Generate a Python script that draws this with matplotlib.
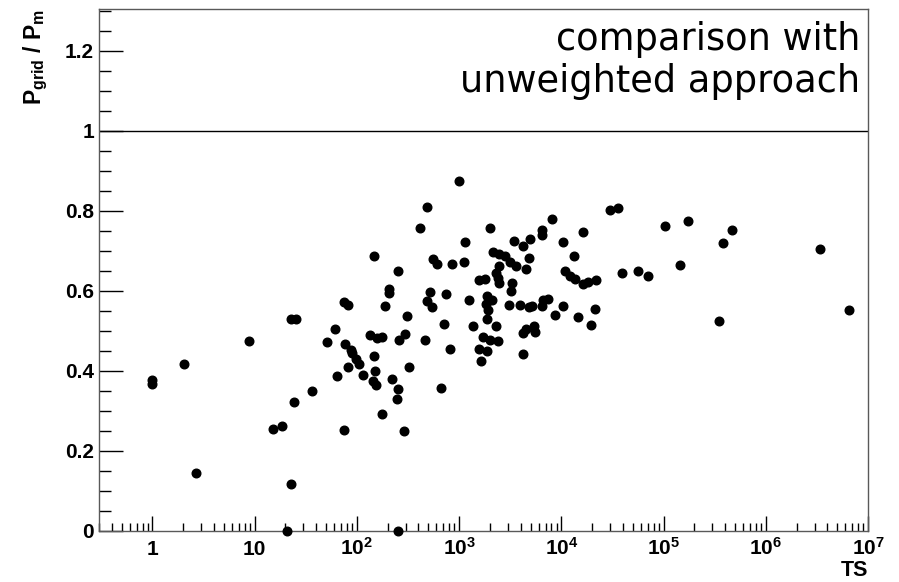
import matplotlib
matplotlib.use("Agg")
import matplotlib.pyplot as plt
from matplotlib.ticker import FixedLocator, LogLocator, NullFormatter, MultipleLocator

# ---- data ----
ts = [1.0, 1.0, 2.05, 2.67, 8.8, 15.1, 18.4, 20.5, 22.5, 22.5,
      25.3, 24.4, 36, 50.8, 60.8, 63.2, 74, 74.5, 82, 76.7,
      82, 86.6, 89.8, 97.5, 104, 116, 133, 147, 147, 151,
      144, 155, 156, 175, 175, 187, 208, 208, 222, 248,
      254, 255, 253, 258, 287, 294, 309, 321, 416, 463,
      485, 485, 519, 547, 553, 612, 670, 717, 750, 813,
      851, 989, 1107, 1132, 1258, 1376, 1550, 1786, 1555, 1629,
      1695, 1857, 1885, 1844, 1928, 1885, 1986, 1986, 2109, 2148,
      2443, 2780, 2272, 2307, 2393, 2448, 2459, 2393, 3044, 3162,
      3564, 3280, 3185, 3421, 3899, 4237, 4218, 4532, 4237, 4532,
      4775, 4913, 4850, 5108, 5375, 5587, 6397, 6397, 6686, 7480,
      6530, 8092, 8660, 10300, 10480, 10770, 12050, 13670, 13370, 14430,
      16180, 16440, 18110, 19680, 21530, 22030, 30150, 36120, 39540, 55720,
      70960, 102300, 145600, 173000, 349900, 382700, 465600, 3367000, 6470000]

ratio = [0.377, 0.367, 0.418, 0.145, 0.475, 0.254, 0.263, 0.0, 0.116, 0.530,
         0.530, 0.321, 0.350, 0.473, 0.505, 0.387, 0.251, 0.573, 0.565, 0.468,
         0.409, 0.452, 0.444, 0.429, 0.416, 0.390, 0.490, 0.688, 0.437, 0.400,
         0.375, 0.365, 0.483, 0.485, 0.292, 0.562, 0.605, 0.594, 0.380, 0.329,
         0.355, 0.0, 0.650, 0.478, 0.249, 0.493, 0.536, 0.410, 0.758, 0.476,
         0.809, 0.575, 0.596, 0.560, 0.680, 0.666, 0.358, 0.517, 0.591, 0.454,
         0.668, 0.876, 0.672, 0.722, 0.578, 0.513, 0.628, 0.630, 0.454, 0.425,
         0.484, 0.529, 0.588, 0.566, 0.553, 0.450, 0.756, 0.476, 0.577, 0.698,
         0.693, 0.688, 0.513, 0.644, 0.631, 0.620, 0.661, 0.475, 0.565, 0.672,
         0.661, 0.619, 0.600, 0.725, 0.565, 0.712, 0.494, 0.504, 0.443, 0.654,
         0.681, 0.729, 0.560, 0.562, 0.513, 0.498, 0.752, 0.739, 0.576, 0.580,
         0.563, 0.780, 0.539, 0.722, 0.563, 0.650, 0.637, 0.630, 0.686, 0.534,
         0.746, 0.616, 0.623, 0.515, 0.555, 0.628, 0.802, 0.807, 0.645, 0.650,
         0.637, 0.761, 0.664, 0.775, 0.524, 0.720, 0.753, 0.705, 0.553]

x_ticks = [1, 10, 1e2, 1e3, 1e4, 1e5, 1e6, 1e7]
x_tick_labels = ["1", "10", r"$\mathbf{10^{2}}$", r"$\mathbf{10^{3}}$", r"$\mathbf{10^{4}}$",
                 r"$\mathbf{10^{5}}$", r"$\mathbf{10^{6}}$", r"$\mathbf{10^{7}}$"]
y_ticks = [0, 0.2, 0.4, 0.6, 0.8, 1.0, 1.2]
y_tick_labels = ["0", "0.2", "0.4", "0.6", "0.8", "1", "1.2"]
reference_level = 1.0
annotation = ["comparison with", "unweighted approach"]

# ---- style ----
plt.rcParams["mathtext.fontset"] = "custom"
plt.rcParams["mathtext.rm"] = "Liberation Sans"
plt.rcParams["mathtext.bf"] = "Liberation Sans:bold"
plt.rcParams["mathtext.it"] = "Liberation Sans:italic"
plt.rcParams["font.family"] = ["Liberation Sans", "DejaVu Sans"]

W, H = 899, 582
fig = plt.figure(figsize=(W / 100, H / 100), dpi=100)
ax_l, ax_r, ax_b, ax_t = 99, 868, 530.7, 9
ax = fig.add_axes([ax_l / W, (H - ax_b) / H, (ax_r - ax_l) / W, (ax_b - ax_t) / H])

ax.plot(ts, ratio, "o", color="black", ms=6.2, mec="black", clip_on=False, zorder=3)
ax.axhline(reference_level, color="black", lw=1.0, zorder=2)

ax.set_xscale("log")
ax.set_xlim(0.3, 1e7)
ax.set_ylim(0, 1.305)

ax.xaxis.set_major_locator(FixedLocator(x_ticks))
ax.set_xticklabels(x_tick_labels)
ax.xaxis.set_minor_locator(LogLocator(base=10, subs=range(2, 10), numticks=50))
ax.xaxis.set_minor_formatter(NullFormatter())

ax.yaxis.set_major_locator(FixedLocator(y_ticks))
ax.set_yticklabels(y_tick_labels)
ax.yaxis.set_minor_locator(MultipleLocator(0.05))

for sp in ax.spines.values():
    sp.set_color("0.35")
    sp.set_linewidth(1.0)

ax.tick_params(which="both", direction="in", top=False, right=False, color="black", width=1.0)
ax.tick_params(axis="y", which="major", length=17, pad=3.5)
ax.tick_params(axis="y", which="minor", length=8.5)
ax.tick_params(axis="x", which="major", length=11, pad=17.5)
ax.tick_params(axis="x", which="minor", length=5.5)

for lbl in ax.get_yticklabels():
    lbl.set_fontsize(15)
    lbl.set_fontweight("bold")
for lbl in ax.get_xticklabels():
    lbl.set_fontsize(15)
    lbl.set_fontweight("bold")
    lbl.set_verticalalignment("baseline")

ax.set_ylabel(r"$\mathbf{P_{grid}\ /\ P_{m}}$", fontsize=16.5, loc="top")
ax.yaxis.set_label_coords(-0.064, 1.0)
ax.set_xlabel("TS", fontsize=15.5, fontweight="bold", loc="right")
ax.xaxis.set_label_coords(1.0, -0.057)

fig.text(860 / W, (H - 50) / H, annotation[0], ha="right", va="baseline",
         fontsize=26.5, family="DejaVu Sans")
fig.text(860 / W, (H - 92) / H, annotation[1], ha="right", va="baseline",
         fontsize=26.5, family="DejaVu Sans")

fig.savefig("out.png", dpi=100)
